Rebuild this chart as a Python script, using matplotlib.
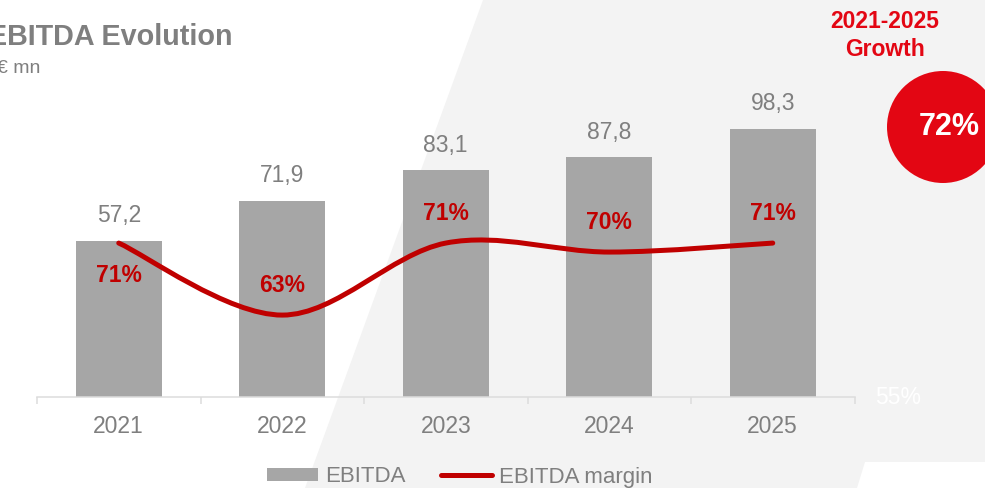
import numpy as np
import matplotlib
matplotlib.use("Agg")
import matplotlib.pyplot as plt
from matplotlib.patches import Polygon, Ellipse, Patch
from matplotlib.lines import Line2D
from matplotlib.path import Path
from matplotlib.patches import PathPatch

# data
years = ["2021", "2022", "2023", "2024", "2025"]
ebitda = [57.2, 71.9, 83.1, 87.8, 98.3]
ebitda_labels = ["57,2", "71,9", "83,1", "87,8", "98,3"]
margin = [71, 63, 71, 70, 71]
margin_labels = ["71%", "63%", "71%", "70%", "71%"]
growth_label = "72%"

W, H = 985, 488
GREY_TXT = "#7f7f7f"
BAR = "#a6a6a6"
DARK_RED = "#c00000"
RED = "#e30613"

plt.rcParams['font.family'] = ['Liberation Sans', 'DejaVu Sans']


def fx(x):
    return x / W


def fy(y):
    return 1 - y / H


fig = plt.figure(figsize=(W / 100, H / 100), dpi=100)
fig.patch.set_facecolor("white")

# light grey slanted background shape
bg = Polygon([(fx(483), fy(0)), (fx(985), fy(0)), (fx(985), fy(462)), (fx(865), fy(462)),
              (fx(857), fy(488)), (fx(305), fy(488))],
             closed=True, transform=fig.transFigure, facecolor="#f3f3f3", edgecolor="none", zorder=0)
fig.patches.append(bg)

# main axes
ax = fig.add_axes([fx(37), fy(397), (854.5 - 37) / W, 300.3 / H])
ax.set_zorder(2)
ax.set_facecolor("none")
x = np.arange(len(years))
ax.bar(x, ebitda, width=0.526, color=BAR, zorder=2)
ax.set_xlim(-0.5, len(years) - 0.5)
ax.set_ylim(0, 110)
for sp in ["top", "left", "right"]:
    ax.spines[sp].set_visible(False)
ax.spines["bottom"].set_color("#dcdcdc")
ax.spines["bottom"].set_linewidth(1.1)
ax.set_yticks([])
ax.set_xticks(x)
ax.set_xticklabels(years, fontsize=16.5, color=GREY_TXT)
ax.set_xticks(np.arange(-0.5, len(years), 1), minor=True)
ax.tick_params(axis="x", which="major", length=0, pad=13)
ax.tick_params(axis="x", which="minor", length=5, color="#dcdcdc", width=1.1)

for i, (v, lab) in enumerate(zip(ebitda, ebitda_labels)):
    ax.annotate(lab, (i, v), xytext=(0, 18), textcoords="offset points",
                ha="center", va="center", fontsize=16.5, color=GREY_TXT)

# margin line on secondary axis, smoothed like an office chart
ax2 = ax.twinx()
ax2.set_zorder(3)
ax2.set_ylim(53.9, 87.26)
ax2.axis("off")
pts = list(zip(x.astype(float), margin))
verts = [pts[0]]
codes = [Path.MOVETO]
n = len(pts)
for i in range(n - 1):
    p0 = pts[i - 1] if i > 0 else pts[i]
    p1 = pts[i]
    p2 = pts[i + 1]
    p3 = pts[i + 2] if i + 2 < n else pts[i + 1]
    c1 = (p1[0] + (p2[0] - p0[0]) / 6, p1[1] + (p2[1] - p0[1]) / 6)
    c2 = (p2[0] - (p3[0] - p1[0]) / 6, p2[1] - (p3[1] - p1[1]) / 6)
    verts += [c1, c2, p2]
    codes += [Path.CURVE4] * 3
ax2.add_patch(PathPatch(Path(verts, codes), facecolor="none", edgecolor=DARK_RED,
                        linewidth=3.6, capstyle="round", zorder=3))

for i, (v, lab) in enumerate(zip(margin, margin_labels)):
    off = -23 if i == 0 else 21.6
    ax2.annotate(lab, (i, v), xytext=(0, off), textcoords="offset points",
                 ha="center", va="center", fontsize=16.5, fontweight="bold", color=DARK_RED)

# hidden axis label in white
fig.text(fx(898), fy(397), "55%", ha="center", va="center", fontsize=16.5, color="white")

# titles
fig.text(fx(-12), fy(45), "EBITDA Evolution", ha="left", va="baseline",
         fontsize=20.7, fontweight="bold", color=GREY_TXT)
fig.text(fx(-3), fy(73), "€ mn", ha="left", va="baseline", fontsize=14, color=GREY_TXT)

# growth bubble
fig.text(fx(885), fy(22), "2021-2025", ha="center", va="center", fontsize=16.5,
         fontweight="bold", color=RED)
fig.text(fx(885), fy(49), "Growth", ha="center", va="center", fontsize=16.5,
         fontweight="bold", color=RED)
circ = Ellipse((fx(943), fy(127)), 112 / W, 112 / H, transform=fig.transFigure,
               facecolor=RED, edgecolor="none", zorder=1)
fig.patches.append(circ)
fig.text(fx(949), fy(127), growth_label, ha="center", va="center", fontsize=22,
         fontweight="bold", color="white", zorder=5)

# legend
handles = [Patch(facecolor=BAR, edgecolor="none"),
           Line2D([0], [0], color=DARK_RED, lw=3.6, solid_capstyle="round")]
leg = fig.legend(handles, ["EBITDA", "EBITDA margin"], loc="center left",
                 bbox_to_anchor=(fx(267), fy(477)), ncol=2, frameon=False,
                 fontsize=16, handlelength=2.3, handleheight=0.53, handletextpad=0.3,
                 columnspacing=1.6, borderpad=0, borderaxespad=0)
for t in leg.get_texts():
    t.set_color(GREY_TXT)

fig.savefig("out.png", dpi=100)
